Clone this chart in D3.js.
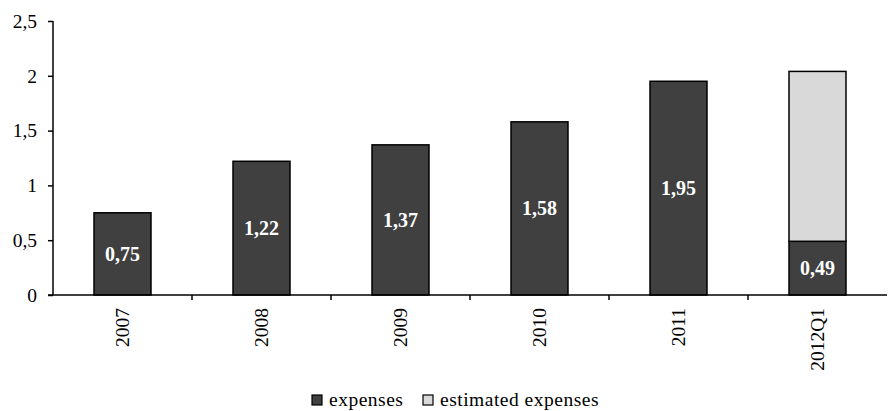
<!DOCTYPE html>
<html>
<head>
<meta charset="utf-8">
<script src="https://cdn.jsdelivr.net/npm/d3@7"></script>
<style>
  body { margin: 0; background: #fff; }
  text { font-family: "Liberation Serif", "DejaVu Serif", serif; }
</style>
</head>
<body>
<div id="chart"></div>
<script>
var categories = ["2007", "2008", "2009", "2010", "2011", "2012Q1"];
var expenses = [0.75, 1.22, 1.37, 1.58, 1.95, 0.49];
var estimated = [0, 0, 0, 0, 0, 1.55];
var yTicks = [0, 0.5, 1, 1.5, 2, 2.5];
var seriesNames = ["expenses", "estimated expenses"];
var colors = ["#404040", "#d9d9d9"];

var svgWidth = 889, svgHeight = 411;
var margin = { top: 21, right: 2, bottom: 116, left: 53 };
var width = svgWidth - margin.left - margin.right;
var height = svgHeight - margin.top - margin.bottom;

var svg = d3.select("#chart").append("svg")
  .attr("width", svgWidth)
  .attr("height", svgHeight);
var g = svg.append("g")
  .attr("transform", `translate(${margin.left}, ${margin.top})`);

var x = d3.scaleBand().domain(categories).range([0, width]).paddingInner(0.59).paddingOuter(0.295);
var y = d3.scaleLinear().domain([0, 2.5]).range([height, 0]);
var fmt = d => String(d).replace(".", ",");

// stacked data
var rows = categories.map((c, i) => ({ cat: c, expenses: expenses[i], estimated: estimated[i] }));
var stack = d3.stack().keys(["expenses", "estimated"])(rows);

stack.forEach((layer, li) => {
  g.selectAll(".bar" + li)
    .data(layer.filter(d => d[1] - d[0] > 0))
    .enter().append("rect")
    .attr("x", d => x(d.data.cat))
    .attr("width", x.bandwidth())
    .attr("y", d => y(d[1]))
    .attr("height", d => y(d[0]) - y(d[1]))
    .attr("fill", colors[li])
    .attr("stroke", "#000")
    .attr("stroke-width", 1.5);
});

// value labels on expenses
g.selectAll(".lbl")
  .data(rows)
  .enter().append("text")
  .attr("x", d => x(d.cat) + x.bandwidth() / 2)
  .attr("y", d => (y(0) + y(d.expenses)) / 2)
  .attr("dy", "0.35em")
  .attr("text-anchor", "middle")
  .attr("fill", "#fff")
  .attr("font-weight", "bold")
  .attr("font-size", 20)
  .text(d => fmt(d.expenses));

// y axis
var yAxis = g.append("g")
  .call(d3.axisLeft(y).tickValues(yTicks).tickFormat(fmt).tickSize(5).tickPadding(11));
yAxis.select(".domain").attr("stroke", "#000").attr("stroke-width", 1.5).attr("d", `M0,${height}V0`);
yAxis.selectAll(".tick line").attr("stroke", "#000").attr("stroke-width", 1.5);
yAxis.selectAll(".tick text").attr("font-size", 19.5).attr("fill", "#000")
  .style("font-family", "'Liberation Serif', serif");

// x axis
g.append("line")
  .attr("x1", -5).attr("x2", width)
  .attr("y1", height).attr("y2", height)
  .attr("stroke", "#000").attr("stroke-width", 1.5);
var gap = (x.step() - x.bandwidth()) / 2;
g.selectAll(".xtick")
  .data(categories.slice(1))
  .enter().append("line")
  .attr("x1", d => x(d) - gap)
  .attr("x2", d => x(d) - gap)
  .attr("y1", height).attr("y2", height + 5)
  .attr("stroke", "#000").attr("stroke-width", 1.5);
g.selectAll(".xlab")
  .data(categories)
  .enter().append("text")
  .attr("transform", d => `translate(${x(d) + x.bandwidth() / 2}, ${height + 13}) rotate(-90)`)
  .attr("text-anchor", "end")
  .attr("dy", "0.35em")
  .attr("font-size", 19.5)
  .text(d => d);

// legend
var legend = svg.append("g").attr("transform", "translate(312, 406)");
var items = [{ name: seriesNames[0], x: 0 }, { name: seriesNames[1], x: 111 }];
items.forEach((it, i) => {
  legend.append("rect")
    .attr("x", it.x).attr("y", -11)
    .attr("width", 10).attr("height", 10)
    .attr("fill", colors[i]).attr("stroke", "#000").attr("stroke-width", 1.2);
  legend.append("text")
    .attr("x", it.x + 17).attr("y", 0)
    .attr("font-size", 19.5)
    .attr("letter-spacing", 0.5)
    .text(it.name);
});
</script>
</body>
</html>
